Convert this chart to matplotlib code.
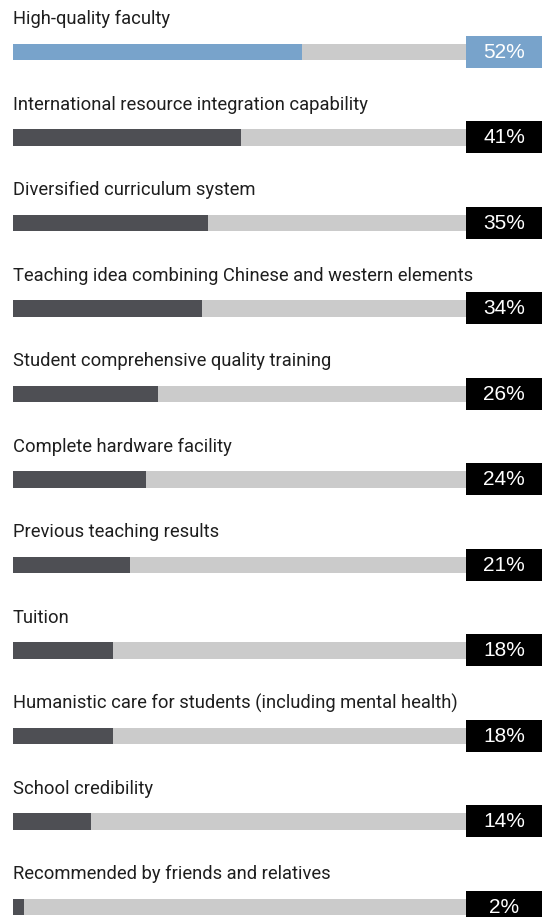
import matplotlib
matplotlib.use("Agg")
import matplotlib.pyplot as plt

categories = [
    "High-quality faculty",
    "International resource integration capability",
    "Diversified curriculum system",
    "Teaching idea combining Chinese and western elements",
    "Student comprehensive quality training",
    "Complete hardware facility",
    "Previous teaching results",
    "Tuition",
    "Humanistic care for students (including mental health)",
    "School credibility",
    "Recommended by friends and relatives",
]
values = [52, 41, 35, 34, 26, 24, 21, 18, 18, 14, 2]
value_labels = ["52%", "41%", "35%", "34%", "26%", "24%", "21%", "18%", "18%", "14%", "2%"]

W, H = 545, 917
fig = plt.figure(figsize=(W / 100, H / 100), dpi=100)
ax = fig.add_axes([0, 0, 1, 1])

px_per_unit = 5.56   # pixels per percentage point
x0_px = 13
row0_px = 52
row_px = 85.5

ax.set_xlim(-x0_px / px_per_unit, (W - x0_px) / px_per_unit)
ax.set_ylim((H - row0_px) / row_px, -row0_px / row_px)
ax.axis("off")

track_end = (466 - x0_px) / px_per_unit
box_end = (542 - x0_px) / px_per_unit
bar_h = 16.5 / row_px
box_h = 32 / row_px

blue = "#78a3cb"
dark = "#4e4f54"
track = "#cbcbcb"

ys = list(range(len(categories)))
colors = [blue if i == 0 else dark for i in ys]
box_colors = [blue if i == 0 else "#000000" for i in ys]

ax.barh(ys, [track_end] * len(ys), height=bar_h, left=0, color=track, zorder=1)
ax.barh(ys, values, height=bar_h, left=0, color=colors, zorder=2)
ax.barh(ys, [box_end - track_end] * len(ys), height=box_h, left=track_end,
        color=box_colors, zorder=3)

for y, cat, lab in zip(ys, categories, value_labels):
    ax.text(0, y - 27.5 / row_px, cat, ha="left", va="baseline",
            fontsize=13.2, family="Roboto", color="#1e1e1e")
    ax.text((track_end + box_end) / 2, y + 0.5 / row_px, lab, ha="center", va="center",
            fontsize=15, family="Liberation Sans", color="white", zorder=4)

fig.savefig("out.png", dpi=100)
